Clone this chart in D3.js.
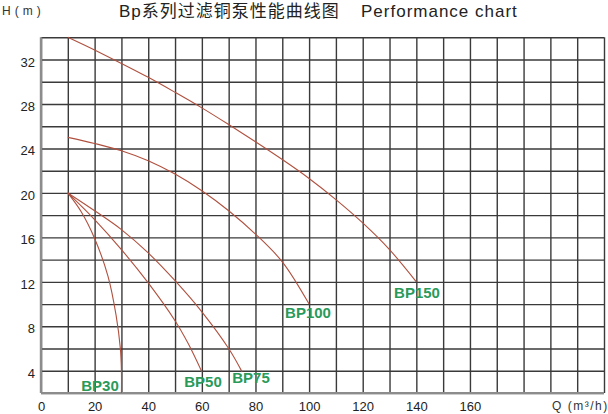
<!DOCTYPE html>
<html>
<head>
<meta charset="utf-8">
<script src="https://cdn.jsdelivr.net/npm/d3@7"></script>
<style>
  body { margin: 0; background: #fff; }
  svg { display: block; font-family: "Liberation Sans", Arial, sans-serif; }
  .grid line { stroke: #3a3a3a; stroke-width: 1.4; }
  .grid path { display: none; }
  .ticks path, .ticks line { display: none; }
  .ticks text { font-size: 13px; fill: #222; font-family: "Liberation Sans", Arial, sans-serif; }
</style>
</head>
<body>
<div id="chart"></div>
<script>
// tick labels
var xTicks = [0, 20, 40, 60, 80, 100, 120, 140, 160];
var yTicks = [4, 8, 12, 16, 20, 24, 28, 32];

// pump curves: flow Q (m3/h) and head H (m)
var bp150Q = [10, 20, 30, 40, 50, 60, 70, 80, 90, 100, 110, 120, 130, 140];
var bp150H = [34, 32.85, 31.65, 30.4, 29.05, 27.65, 26.15, 24.6, 23.0, 21.3, 19.4, 17.3, 14.9, 12.0];

var bp100Q = [10, 20, 30, 40, 50, 60, 70, 80, 90, 100];
var bp100H = [25, 24.45, 23.8, 22.9, 21.7, 20.2, 18.4, 16.3, 13.8, 10.0];

var bp75Q = [10, 20, 30, 40, 50, 60, 70, 75];
var bp75H = [20, 18.4, 16.7, 14.6, 12.1, 9.3, 6.0, 3.9];

var bp50Q = [10, 20, 30, 40, 50, 55, 60];
var bp50H = [20, 17.6, 14.9, 11.9, 8.5, 6.4, 3.9];

var bp30Q = [10, 15, 20, 25, 28, 29.6, 30, 30];
var bp30H = [20, 18.3, 15.9, 12.5, 9.0, 6.0, 4.0, 2.0];

var seriesNames = ["BP150", "BP100", "BP75", "BP50", "BP30"];

var W = 608, H = 414;
var svg = d3.select("#chart").append("svg")
  .attr("width", W)
  .attr("height", H);

var x = d3.scaleLinear().domain([0, 210]).range([41, 604]);
var y = d3.scaleLinear().domain([2, 34]).range([393, 37.3]);

// grid
svg.append("g")
  .attr("class", "grid")
  .attr("transform", "translate(0," + y(2) + ")")
  .call(d3.axisBottom(x).tickValues(d3.range(0, 211, 10)).tickSize(y(34) - y(2)).tickFormat(""));
svg.append("g")
  .attr("class", "grid")
  .attr("transform", "translate(" + x(0) + ",0)")
  .call(d3.axisLeft(y).tickValues(d3.range(2, 35, 2)).tickSize(x(0) - x(210)).tickFormat(""));

// grey frame on left and bottom
svg.append("line")
  .attr("x1", x(0)).attr("x2", x(0)).attr("y1", y(34)).attr("y2", y(2))
  .attr("stroke", "#8c8c8c").attr("stroke-width", 2.4);
svg.append("line")
  .attr("x1", x(0)).attr("x2", x(210)).attr("y1", y(2)).attr("y2", y(2))
  .attr("stroke", "#8c8c8c").attr("stroke-width", 2);

// tick labels
svg.append("g")
  .attr("class", "ticks")
  .attr("transform", "translate(0,411)")
  .call(d3.axisBottom(x).tickValues(xTicks).tickSize(0).tickPadding(0))
  .selectAll("text").attr("dy", "0");
svg.append("g")
  .attr("class", "ticks")
  .attr("transform", "translate(35,0)")
  .call(d3.axisLeft(y).tickValues(yTicks).tickSize(0).tickPadding(0))
  .selectAll("text").attr("dy", "0.5em");

// curves
var line = d3.line()
  .x(d => x(d[0]))
  .y(d => y(d[1]))
  .curve(d3.curveCatmullRom.alpha(0.5));

var curves = [
  d3.zip(bp150Q, bp150H),
  d3.zip(bp100Q, bp100H),
  d3.zip(bp75Q, bp75H),
  d3.zip(bp50Q, bp50H),
  d3.zip(bp30Q, bp30H)
];

svg.append("g")
  .selectAll("path")
  .data(curves)
  .join("path")
  .attr("fill", "none")
  .attr("stroke", "#b0503e")
  .attr("stroke-width", 1.1)
  .attr("d", line);

// curve labels
var labelPos = [[417, 298], [308, 318], [251, 382.5], [203, 387], [100, 391]];
svg.append("g")
  .selectAll("text")
  .data(seriesNames)
  .join("text")
  .attr("x", (d, i) => labelPos[i][0])
  .attr("y", (d, i) => labelPos[i][1])
  .attr("text-anchor", "middle")
  .attr("font-size", 15)
  .attr("font-weight", "bold")
  .attr("fill", "#2a9a5a")
  .text(d => d);

// titles
svg.append("text")
  .attr("x", 2).attr("y", 15)
  .attr("font-size", 12)
  .attr("letter-spacing", 4)
  .attr("fill", "#333")
  .text("H(m)");

svg.append("text")
  .attr("x", 119).attr("y", 17)
  .attr("font-size", 17)
  .attr("letter-spacing", 1)
  .attr("fill", "#222")
  .style("font-family", "'Liberation Sans', 'Noto Sans CJK SC', sans-serif")
  .text("Bp系列过滤铜泵性能曲线图");

svg.append("text")
  .attr("x", 361).attr("y", 17)
  .attr("font-size", 17)
  .attr("letter-spacing", 1)
  .attr("fill", "#222")
  .text("Performance chart");

svg.append("text")
  .attr("x", 552).attr("y", 410)
  .attr("font-size", 12)
  .attr("letter-spacing", 1.5)
  .attr("fill", "#333")
  .text("Q (m³/h)");
</script>
</body>
</html>
